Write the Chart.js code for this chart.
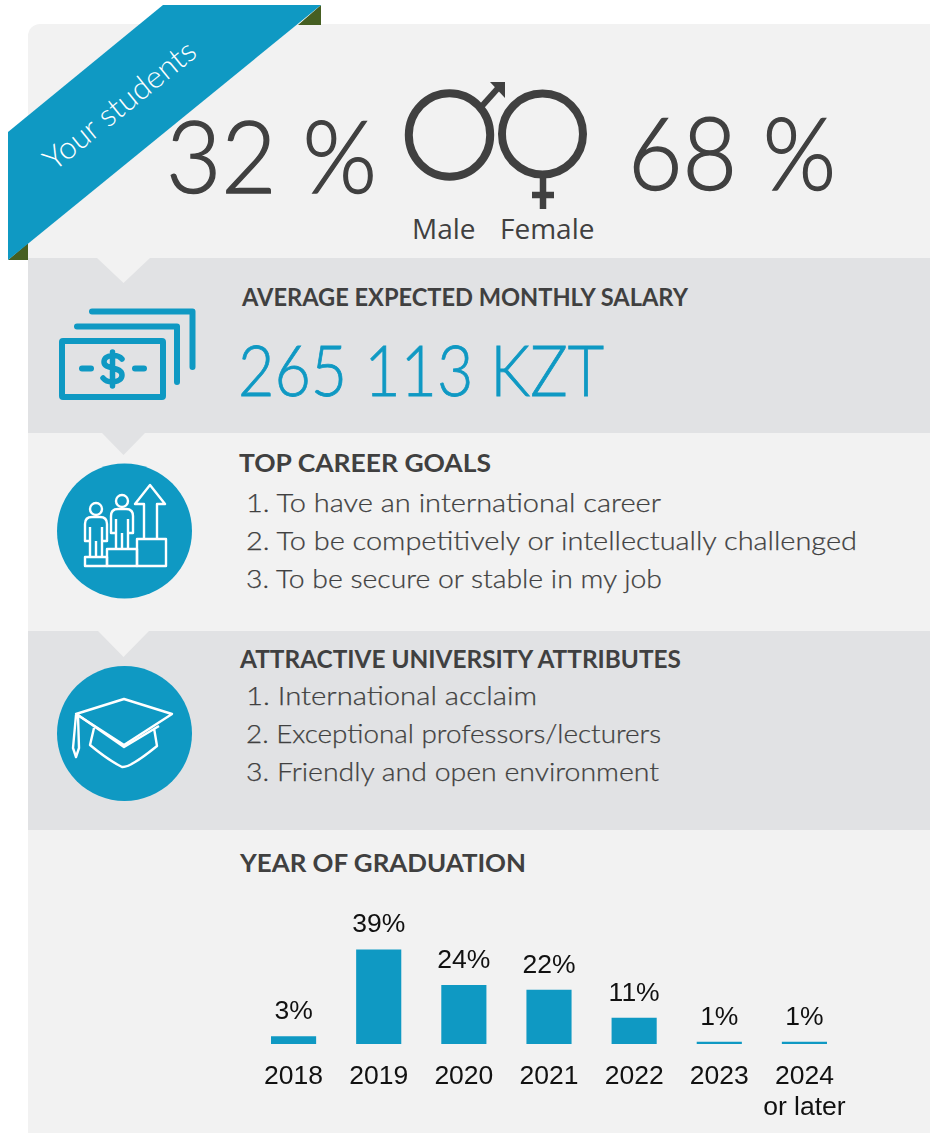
<!DOCTYPE html>
<html>
<head>
<meta charset="utf-8">
<title>Your students</title>
<script src="https://cdn.jsdelivr.net/npm/chart.js@4"></script>
<style>
  html, body { margin: 0; padding: 0; background: #fff; overflow: hidden; }
  #page { position: relative; width: 930px; height: 1133px; }
  #art { position: absolute; left: 0; top: 0; }
  #chartBox { position: absolute; left: 250.500px; top: 900px; width: 596px; height: 233px; }
  text { font-family: Lato, sans-serif; fill: #404040; }
  .head { font-weight: 700; font-size: 25px; }
  .item { font-weight: 300; font-size: 26px; stroke: #404040; stroke-width: 0.25; }
  .big { font-weight: 300; font-size: 101px; stroke: #404040; stroke-width: 1.4; }
  .sex { font-family: "Open Sans", sans-serif; font-size: 28px; }
  .line { fill: none; stroke: #fff; stroke-width: 2.4; stroke-linejoin: round; }
  .blue { fill: none; stroke: #0f99c3; stroke-width: 6; stroke-linecap: round; stroke-linejoin: round; }
  .dark { fill: none; stroke: #404040; stroke-width: 8; }
</style>
</head>
<body>
<div id="page">
  <svg id="art" width="930" height="1133" viewBox="0 0 930 1133">
    <!-- фон и полосы -->
    <path d="M28 258V36a12 12 0 0 1 12-12H930V258Z" fill="#f2f2f2"/>
    <rect x="28" y="258" width="902" height="175" fill="#e1e2e4"/>
    <rect x="28" y="433" width="902" height="198" fill="#f2f2f2"/>
    <rect x="28" y="631" width="902" height="199" fill="#e1e2e4"/>
    <rect x="28" y="830" width="902" height="303" fill="#f2f2f2"/>
    <path d="M97 258H150L123.500 283Z" fill="#f2f2f2"/>
    <path d="M102 433H145L123.500 455Z" fill="#e1e2e4"/>
    <path d="M98 631H149L123.500 657Z" fill="#f2f2f2"/>

    <!-- лента -->
    <path d="M321 5V25H298Z" fill="#465f22"/>
    <path d="M8 260H28V243Z" fill="#465f22"/>
    <path d="M163 5H321L8 260V132Z" fill="#0f99c3"/>
    <text transform="translate(54 172) rotate(-39)" font-size="31" style="font-weight:300;fill:#fff" textLength="186" lengthAdjust="spacingAndGlyphs">Your students</text>

    <!-- верхний блок -->
    <text class="big" x="166" y="193" textLength="211" lengthAdjust="spacingAndGlyphs">32 %</text>
    <text class="big" x="628" y="190" textLength="208" lengthAdjust="spacingAndGlyphs">68 %</text>
    <ellipse class="dark" cx="449.500" cy="135" rx="40.700" ry="41.700"/>
    <path d="M482 106L499 87" stroke="#404040" stroke-width="6" fill="none"/>
    <path d="M490 82H505V98Z" fill="#404040"/>
    <circle class="dark" cx="542.500" cy="134" r="40.500"/>
    <path d="M543 178V209M532 195H554" stroke="#404040" stroke-width="6.500" fill="none"/>
    <text class="sex" x="412" y="238.500">Male</text>
    <text class="sex" x="500" y="238.500">Female</text>

    <!-- зарплата -->
    <text class="head" x="242" y="306" textLength="446" lengthAdjust="spacingAndGlyphs">AVERAGE EXPECTED MONTHLY SALARY</text>
    <text x="238" y="396" font-size="71" style="font-weight:300;fill:#0f99c3;stroke:#0f99c3;stroke-width:0.8" textLength="366" lengthAdjust="spacingAndGlyphs">265 113 KZT</text>
    <rect x="62" y="341" width="101" height="56" rx="1" class="blue"/>
    <path class="blue" d="M77 326.500H177V382"/>
    <path class="blue" d="M92 311.500H192.500V367"/>
    <path class="blue" d="M82 368.500H91M135 368.500H144"/>
    <path d="M122 359C118 354 104 354 104 362C104 370 122 366 122 375C122 383 108 384 103 378M112.500 352V386" fill="none" stroke="#0f99c3" stroke-width="5.500" stroke-linecap="round"/>

    <!-- цели -->
    <text class="head" x="239" y="472" textLength="252" lengthAdjust="spacingAndGlyphs">TOP CAREER GOALS</text>
    <text class="item" x="246" y="512" textLength="415" lengthAdjust="spacingAndGlyphs">1. To have an international career</text>
    <text class="item" x="246" y="550" textLength="611" lengthAdjust="spacingAndGlyphs">2. To be competitively or intellectually challenged</text>
    <text class="item" x="246" y="588" textLength="416" lengthAdjust="spacingAndGlyphs">3. To be secure or stable in my job</text>
    <circle cx="124.500" cy="531" r="67.500" fill="#0f99c3"/>
    <rect x="85" y="557" width="22" height="9" class="line"/>
    <rect x="107" y="549" width="30" height="17" class="line"/>
    <rect x="137" y="539" width="29" height="27" class="line"/>
    <circle cx="96" cy="509" r="6" class="line"/>
    <circle cx="122" cy="501" r="6" class="line"/>
    <path class="line" d="M90 527V541H85V524Q85 517 92 517H100Q107 517 107 524V541H102V527M90 541V556M102 541V556M96 541V556"/>
    <path class="line" d="M116 519V533H111V516Q111 509 118 509H126Q133 509 133 516V533H128V519M116 533V548M128 533V548M122 533V548"/>
    <path class="line" d="M144 539V504H135L150 485L165 504H157V539"/>

    <!-- атрибуты -->
    <text class="head" x="240" y="668" textLength="441" lengthAdjust="spacingAndGlyphs">ATTRACTIVE UNIVERSITY ATTRIBUTES</text>
    <text class="item" x="246" y="705" textLength="291" lengthAdjust="spacingAndGlyphs">1. International acclaim</text>
    <text class="item" x="246" y="743" textLength="415" lengthAdjust="spacingAndGlyphs">2. Exceptional professors/lecturers</text>
    <text class="item" x="246" y="781" textLength="413" lengthAdjust="spacingAndGlyphs">3. Friendly and open environment</text>
    <circle cx="124.500" cy="733.500" r="67.500" fill="#0f99c3"/>
    <path class="line" d="M76 714L124 699L172 714L124 745Z"/>
    <path class="line" d="M78 715L124 747L159 726M94 728L90 745Q108 760 122 767Q130 768 157 746L154 728"/>
    <path class="line" stroke-width="1.800" d="M76 715L73 748L76 757L79 748L78 715"/>

    <text class="head" x="240" y="872" textLength="286" lengthAdjust="spacingAndGlyphs">YEAR OF GRADUATION</text>
  </svg>
  <div id="chartBox"><canvas id="gradChart"></canvas></div>
</div>

<script>
  // Данные графика (высоты столбцов, подпись округляется)
  const years = ["2018", "2019", "2020", "2021", "2022", "2023", ["2024", "or later"]];
  const shares = [3.2, 39, 24.3, 22.4, 10.8, 0.9, 0.9];

  const barColor = "#0f99c3";
  const labelFont = '26.5px "Liberation Sans", Arial, sans-serif';

  // Подписи процентов над столбцами
  const valueLabels = {
    id: "valueLabels",
    afterDatasetsDraw(chart) {
      const ctx = chart.ctx;
      ctx.save();
      ctx.font = labelFont;
      ctx.fillStyle = "#111";
      ctx.textAlign = "center";
      ctx.textBaseline = "alphabetic";
      chart.getDatasetMeta(0).data.forEach((bar, i) => {
        ctx.fillText(Math.round(shares[i]) + "%", bar.x, bar.y - 17);
      });
      ctx.restore();
    },
  };

  new Chart(document.getElementById("gradChart").getContext("2d"), {
    type: "bar",
    data: {
      labels: years,
      datasets: [
        {
          data: shares,
          backgroundColor: barColor,
          borderWidth: 0,
          barPercentage: 0.53,
          categoryPercentage: 1,
        },
      ],
    },
    options: {
      responsive: true,
      maintainAspectRatio: false,
      animation: false,
      layout: { padding: { top: 47, left: 0, right: 0, bottom: 0 } },
      plugins: {
        legend: { display: false },
        tooltip: { enabled: false },
      },
      scales: {
        y: { display: false, min: 0, max: 40 },
        x: {
          border: { display: false },
          grid: { display: false, drawTicks: false },
          afterFit(scale) {
            scale.height = 89;
            // иначе длинная подпись "or later" сжимает ось
            scale.paddingLeft = 0;
            scale.paddingRight = 0;
          },
          ticks: {
            color: "#111",
            padding: 17,
            maxRotation: 0,
            autoSkip: false,
            font: { family: '"Liberation Sans", Arial, sans-serif', size: 26.5, lineHeight: 1.18 },
          },
        },
      },
    },
    plugins: [valueLabels],
  });
</script>
</body>
</html>
